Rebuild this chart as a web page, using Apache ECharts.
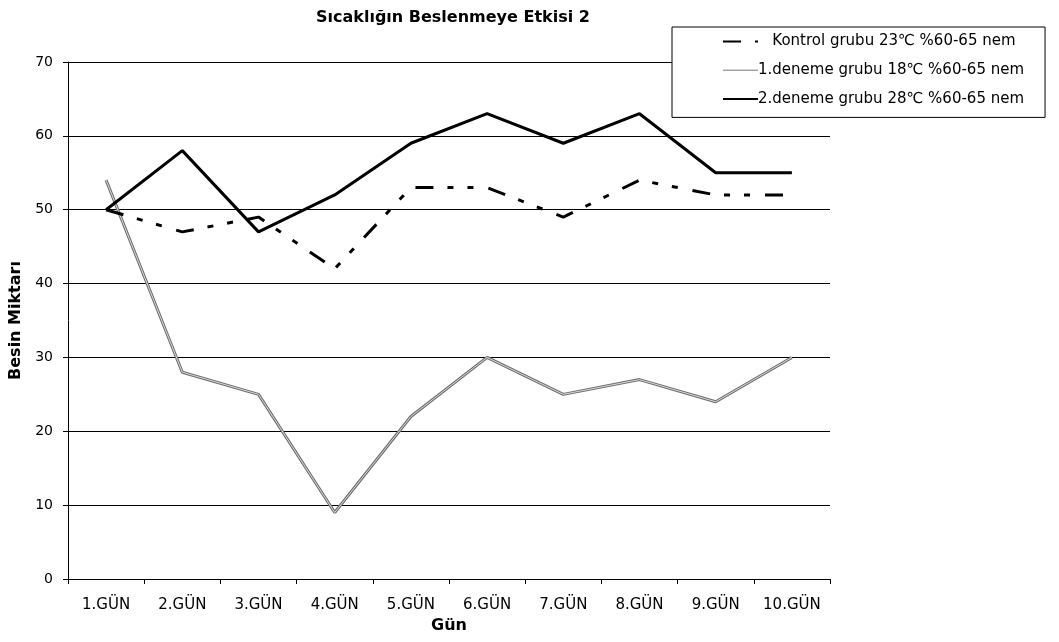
<!DOCTYPE html>
<html>
<head>
<meta charset="utf-8">
<title>Sıcaklığın Beslenmeye Etkisi 2</title>
<script src="https://cdn.jsdelivr.net/npm/echarts@6/dist/echarts.min.js"></script>
<style>
  html, body { margin: 0; padding: 0; background: #fff; }
  #chart { width: 1059px; height: 642px; }
</style>
</head>
<body>
<div id="chart"></div>
<script>
// Days on the category axis
const days = ['1.GÜN', '2.GÜN', '3.GÜN', '4.GÜN', '5.GÜN', '6.GÜN', '7.GÜN', '8.GÜN', '9.GÜN', '10.GÜN'];

// Food amount per group
const kontrolName = 'Kontrol grubu 23℃ %60-65 nem';
const kontrol = [50, 47, 49, 42, 53, 53, 49, 54, 52, 52];

const deneme1Name = '1.deneme grubu 18℃ %60-65 nem';
const deneme1 = [54, 28, 25, 9, 22, 30, 25, 27, 24, 30];

const deneme2Name = '2.deneme grubu 28℃ %60-65 nem';
const deneme2 = [50, 58, 47, 52, 59, 63, 59, 63, 55, 55];

// Value axis ticks
const yMin = 0, yMax = 70, yStep = 10;

const font = 'DejaVu Sans';
const chart = echarts.init(document.getElementById('chart'), null, { renderer: 'canvas' });

chart.setOption({
  animation: false,
  backgroundColor: '#ffffff',
  title: {
    text: 'Sıcaklığın Beslenmeye Etkisi 2',
    left: 311,
    top: 5,
    textStyle: { fontFamily: font, fontWeight: 'bold', fontSize: 16, color: '#000' }
  },
  grid: { left: 68, right: 229, top: 62, bottom: 63, containLabel: false },
  legend: {
    orient: 'vertical',
    left: 672,
    top: 27,
    padding: [7, 21, 11, 50],
    itemGap: 13.7,
    itemWidth: 35,
    itemHeight: 14,
    backgroundColor: '#ffffff',
    borderColor: '#000',
    borderWidth: 1,
    borderRadius: 0,
    z: 10,
    // hide the marker dot, keep only the line sample
    itemStyle: { opacity: 0 },
    textStyle: { fontFamily: font, fontSize: 15, lineHeight: 15, color: '#000', padding: [0, 0, 0, -5] },
    formatter: name => (name === kontrolName ? '   ' + name : name),
    data: [
      { name: kontrolName },
      { name: deneme1Name, lineStyle: { width: 1, color: '#777' } },
      { name: deneme2Name }
    ]
  },
  xAxis: {
    type: 'category',
    data: days,
    boundaryGap: true,
    name: 'Gün',
    nameLocation: 'middle',
    nameGap: 38,
    nameTextStyle: { fontFamily: font, fontWeight: 'bold', fontSize: 16, color: '#000' },
    axisLine: { lineStyle: { color: '#000', width: 1 } },
    axisTick: { show: true, alignWithLabel: false, length: 5, lineStyle: { color: '#000' } },
    axisLabel: { fontFamily: font, fontSize: 15, color: '#000', margin: 19 },
    splitLine: { show: false }
  },
  yAxis: {
    type: 'value',
    min: yMin,
    max: yMax,
    interval: yStep,
    name: 'Besin Miktarı',
    nameLocation: 'middle',
    nameGap: 40,
    nameRotate: 90,
    nameTextStyle: { fontFamily: font, fontWeight: 'bold', fontSize: 16, color: '#000' },
    axisLine: { show: true, lineStyle: { color: '#000', width: 1 } },
    axisTick: { show: true, length: 5, lineStyle: { color: '#000' } },
    axisLabel: { fontFamily: font, fontSize: 14, color: '#000', margin: 15 },
    splitLine: { show: true, lineStyle: { color: '#000', width: 1 } }
  },
  series: [
    {
      name: kontrolName,
      type: 'line',
      data: kontrol,
      symbol: 'none',
      color: '#000',
      lineStyle: { color: '#000', width: 3, type: [18, 14, 6, 14, 6, 15] },
      z: 3
    },
    {
      name: deneme1Name,
      type: 'line',
      data: deneme1,
      symbol: 'none',
      color: '#777',
      lineStyle: { color: '#6f6f6f', width: 3 },
      z: 2
    },
    {
      // light core that gives the grey line its hollow look
      name: 'deneme1-core',
      type: 'line',
      data: deneme1,
      symbol: 'none',
      silent: true,
      lineStyle: { color: '#d8d8d8', width: 1 },
      z: 2
    },
    {
      name: deneme2Name,
      type: 'line',
      data: deneme2,
      symbol: 'none',
      color: '#000',
      lineStyle: { color: '#000', width: 3 },
      z: 4
    }
  ]
});
</script>
</body>
</html>
